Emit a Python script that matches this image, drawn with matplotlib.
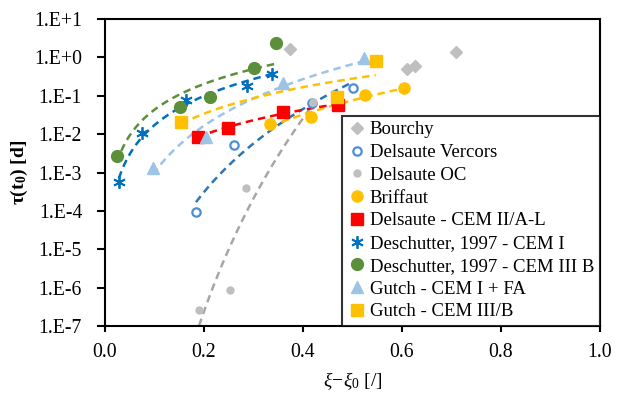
import matplotlib
matplotlib.use('Agg')
import matplotlib.pyplot as plt
import numpy as np

plt.rcParams['font.family'] = ['Liberation Serif', 'DejaVu Serif']
plt.rcParams['mathtext.fontset'] = 'custom'
plt.rcParams['mathtext.rm'] = 'Liberation Serif'
plt.rcParams['mathtext.it'] = 'Liberation Serif:italic'
plt.rcParams['mathtext.bf'] = 'Liberation Serif:bold'

# valeurs (xi - xi0, tau en jours)
bourchy_x = [0.374, 0.610, 0.626, 0.709]
bourchy_y = [1.66, 0.50, 0.60, 1.38]

vercors_x = [0.184, 0.261, 0.418, 0.501]
vercors_y = [9.3e-5, 5.2e-3, 0.065, 0.16]

oc_x = [0.190, 0.253, 0.285, 0.420]
oc_y = [2.6e-7, 8.7e-7, 4.0e-4, 0.07]

briffaut_x = [0.333, 0.416, 0.525, 0.604]
briffaut_y = [0.0187, 0.028, 0.104, 0.16]

cem2_x = [0.188, 0.248, 0.360, 0.471]
cem2_y = [0.0085, 0.0145, 0.038, 0.058]

desch1_x = [0.028, 0.075, 0.164, 0.287, 0.337]
desch1_y = [5.7e-4, 0.0107, 0.078, 0.18, 0.37]

desch3_x = [0.024, 0.152, 0.212, 0.301, 0.345]
desch3_y = [2.7e-3, 0.051, 0.093, 0.53, 2.37]

gutchfa_x = [0.097, 0.204, 0.360, 0.523]
gutchfa_y = [1.3e-3, 0.0085, 0.215, 0.96]

gutch3_x = [0.154, 0.469, 0.547]
gutch3_y = [0.021, 0.093, 0.80]

ytick_labels = ['1.E-7', '1.E-6', '1.E-5', '1.E-4', '1.E-3', '1.E-2', '1.E-1', '1.E+0', '1.E+1']


def power_trend(x, y):
    # courbe de tendance puissance (comme Excel)
    b, a = np.polyfit(np.log(x), np.log(y), 1)
    xs = np.linspace(min(x), max(x), 200)
    return xs, np.exp(a) * xs**b


fig = plt.figure(figsize=(6.19, 3.98), dpi=100)
ax = fig.add_axes([0.1696, 0.181, 0.7994, 0.771])

series = [
    (bourchy_x, bourchy_y, 'Bourchy', dict(marker='D', color='#BFBFBF', ms=6.5, mec='#BFBFBF'), None),
    (vercors_x, vercors_y, 'Delsaute Vercors', dict(marker='o', color='white', ms=6, mec='#4A8FD6', mew=1.6), '#2E75B6'),
    (oc_x, oc_y, 'Delsaute OC', dict(marker='o', color='#BFBFBF', ms=5, mec='#BFBFBF'), '#A6A6A6'),
    (briffaut_x, briffaut_y, 'Briffaut', dict(marker='o', color='#FFC000', ms=8, mec='#FFC000'), '#FFC000'),
    (cem2_x, cem2_y, 'Delsaute - CEM II/A-L', dict(marker='s', color='#FF0000', ms=8, mec='#FF0000'), '#FF0000'),
    (desch1_x, desch1_y, 'Deschutter, 1997 - CEM I', dict(marker=(6, 2, 0), color='#0070C0', ms=9, mec='#0070C0', mew=1.3), '#0070C0'),
    (desch3_x, desch3_y, 'Deschutter, 1997 - CEM III B', dict(marker='o', color='#5B8F3A', ms=8.5, mec='#5B8F3A'), '#5B8F3A'),
    (gutchfa_x, gutchfa_y, 'Gutch - CEM I + FA', dict(marker='^', color='#9DC3E6', ms=8.5, mec='#9DC3E6'), '#9DC3E6'),
    (gutch3_x, gutch3_y, 'Gutch - CEM III/B', dict(marker='s', color='#FFC000', ms=8, mec='#FFC000'), '#FFC000'),
]

for x, y, lab, st, tc in series:
    if tc is not None:
        xs, ys = power_trend(x, y)
        ax.plot(xs, ys, color=tc, lw=1.8, ls=(0, (3, 2)), zorder=2)

for x, y, lab, st, tc in series:
    ax.plot(x, y, ls='none', label=lab, zorder=3, **st)

ax.set_yscale('log')
ax.set_xlim(0, 1)
ax.set_ylim(1e-7, 10)
ax.set_yticks([10.0**k for k in range(-7, 2)])
ax.set_yticklabels(ytick_labels)
ax.minorticks_off()
ax.set_xticks(np.arange(0, 1.01, 0.2))
ax.set_xticklabels(['%.1f' % v for v in np.arange(0, 1.01, 0.2)])
ax.tick_params(labelsize=14.2, direction='out', width=1.5, colors='black')
ax.tick_params(axis='y', length=5.5, pad=11)
ax.tick_params(axis='x', length=4, pad=8)
for s in ax.spines.values():
    s.set_linewidth(1.5)

ax.set_xlabel(r'$\xi\!-\!\xi_0$ [/]', fontsize=14, labelpad=6)
ax.set_ylabel(r'$\mathbf{\tau(t_0)}$ [d]', fontsize=14, fontweight='bold', labelpad=3)

leg = ax.legend(loc='lower right', bbox_to_anchor=(1, 0), borderaxespad=0, fontsize=13.5,
                handlelength=1.0, handletextpad=0.2, labelspacing=0.3, frameon=True,
                fancybox=False, borderpad=0.3, numpoints=1)
leg.get_frame().set_edgecolor('black')
leg.get_frame().set_linewidth(1.5)

fig.savefig('out.png', dpi=100)
